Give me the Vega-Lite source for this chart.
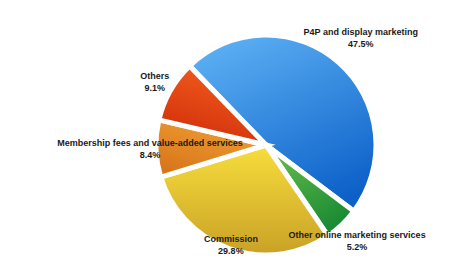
{
  "$schema": "https://vega.github.io/schema/vega-lite/v6.json",
  "width": 414,
  "height": 246,
  "autosize": {"type": "none"},
  "padding": {"left": 59, "top": 22, "right": 0, "bottom": 0},
  "background": "white",
  "config": {"view": {"stroke": null}, "text": {"font": "Liberation Sans", "fontWeight": "bold", "fontSize": 9, "fill": "#1a1a1a"}},
  "data": {
    "values": [
      {"segment": "P4P and display marketing", "share": 47.5, "label": "47.5%", "order": 1},
      {"segment": "Other online marketing services", "share": 5.2, "label": "5.2%", "order": 2},
      {"segment": "Commission", "share": 29.8, "label": "29.8%", "order": 3},
      {"segment": "Membership fees and value-added services", "share": 8.4, "label": "8.4%", "order": 4},
      {"segment": "Others", "share": 9.1, "label": "9.1%", "order": 5}
    ]
  },
  "encoding": {
    "theta": {"field": "share", "type": "quantitative", "stack": true, "scale": {"range": [-0.768, 5.515]}},
    "order": {"field": "order", "type": "quantitative"}
  },
  "layer": [
    {
      "mark": {"type": "arc", "radius": 110, "stroke": "white", "strokeWidth": 5},
      "encoding": {
        "fill": {
          "condition": [
            {"test": "datum.segment === 'P4P and display marketing'", "value": {"gradient": "linear", "x1": 0.2, "y1": 0, "x2": 0.7, "y2": 1, "stops": [{"offset": 0, "color": "#5cb0f4"}, {"offset": 1, "color": "#0c60c8"}]}},
            {"test": "datum.segment === 'Other online marketing services'", "value": {"gradient": "linear", "x1": 0, "y1": 0, "x2": 0.6, "y2": 1, "stops": [{"offset": 0, "color": "#6cc24c"}, {"offset": 1, "color": "#1a8a34"}]}},
            {"test": "datum.segment === 'Commission'", "value": {"gradient": "linear", "x1": 0, "y1": 0, "x2": 0, "y2": 1, "stops": [{"offset": 0, "color": "#f7de3c"}, {"offset": 1, "color": "#c9a126"}]}},
            {"test": "datum.segment === 'Membership fees and value-added services'", "value": {"gradient": "linear", "x1": 0.8, "y1": 0, "x2": 0.2, "y2": 1, "stops": [{"offset": 0, "color": "#f2a236"}, {"offset": 1, "color": "#d6741a"}]}},
            {"test": "datum.segment === 'Others'", "value": {"gradient": "linear", "x1": 0.7, "y1": 0, "x2": 0.3, "y2": 1, "stops": [{"offset": 0, "color": "#f45e1e"}, {"offset": 1, "color": "#cf2e0a"}]}}
          ],
          "value": "#cccccc"
        }
      }
    },
    {"mark": {"type": "text", "radius": 143, "dy": -6}, "encoding": {"text": {"condition": {"test": "datum.order === 1", "field": "segment", "type": "nominal"}, "value": ""}}},
    {"mark": {"type": "text", "radius": 143, "dy": 6}, "encoding": {"text": {"condition": {"test": "datum.order === 1", "field": "label", "type": "nominal"}, "value": ""}}},
    {"mark": {"type": "text", "radius": 132, "dy": -6}, "encoding": {"text": {"condition": {"test": "datum.order === 2", "field": "segment", "type": "nominal"}, "value": ""}}},
    {"mark": {"type": "text", "radius": 132, "dy": 6}, "encoding": {"text": {"condition": {"test": "datum.order === 2", "field": "label", "type": "nominal"}, "value": ""}}},
    {"mark": {"type": "text", "radius": 106, "dy": -6}, "encoding": {"text": {"condition": {"test": "datum.order === 3", "field": "segment", "type": "nominal"}, "value": ""}}},
    {"mark": {"type": "text", "radius": 106, "dy": 6}, "encoding": {"text": {"condition": {"test": "datum.order === 3", "field": "label", "type": "nominal"}, "value": ""}}},
    {"mark": {"type": "text", "radius": 116, "dy": -6}, "encoding": {"text": {"condition": {"test": "datum.order === 4", "field": "segment", "type": "nominal"}, "value": ""}}},
    {"mark": {"type": "text", "radius": 116, "dy": 6}, "encoding": {"text": {"condition": {"test": "datum.order === 4", "field": "label", "type": "nominal"}, "value": ""}}},
    {"mark": {"type": "text", "radius": 128, "dy": -6}, "encoding": {"text": {"condition": {"test": "datum.order === 5", "field": "segment", "type": "nominal"}, "value": ""}}},
    {"mark": {"type": "text", "radius": 128, "dy": 6}, "encoding": {"text": {"condition": {"test": "datum.order === 5", "field": "label", "type": "nominal"}, "value": ""}}}
  ]
}
